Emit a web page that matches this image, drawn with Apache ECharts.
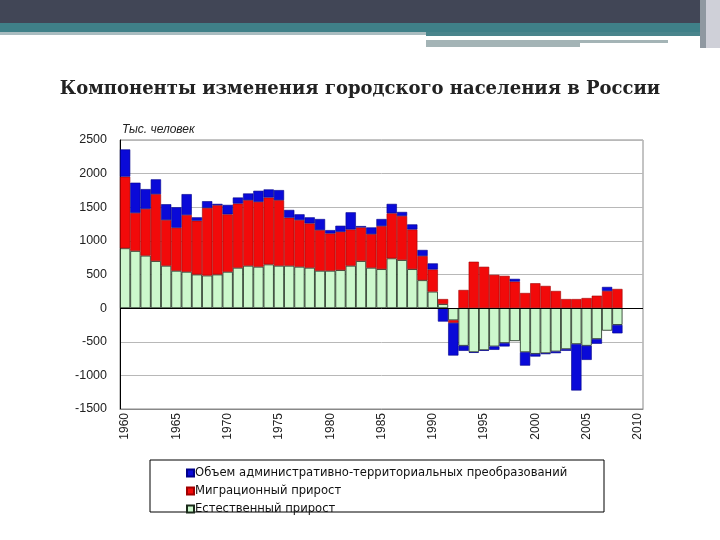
<!DOCTYPE html>
<html>
<head>
<meta charset="utf-8">
<script src="https://cdn.jsdelivr.net/npm/echarts@6/dist/echarts.min.js"></script>
<style>
html, body { margin: 0; padding: 0; background: #fff; }
#chart { width: 720px; height: 540px; }
</style>
</head>
<body>
<div id="chart"></div>
<script>
// годы 1960-2010 (2009, 2010 без данных)
var years = [];
for (var y = 1960; y <= 2010; y++) years.push(String(y));

// Естественный прирост, тыс. человек
var natural = [890, 850, 780, 700, 630, 555, 540, 500, 485, 500,
    540, 600, 630, 615, 650, 630, 630, 615, 600, 555,
    555, 565, 630, 700, 600, 580, 740, 715, 580, 415,
    245, 60, -180, -560, -655, -625, -570, -520, -490, -655,
    -680, -670, -645, -610, -535, -560, -460, -335, -250, null, null];

// Миграционный прирост
var migration = [1065, 565, 695, 995, 680, 640, 845, 800, 1005, 1030,
    855, 955, 975, 965, 995, 975, 715, 695, 660, 605,
    555, 570, 540, 500, 500, 640, 670, 655, 590, 360,
    330, 75, -40, 270, 690, 615, 495, 480, 395, 225,
    370, 330, 255, 135, 135, 150, 185, 255, 285, null, null];

// Объем административно-территориальных преобразований
var admin = [405, 450, 295, 220, 235, 305, 310, 50, 100, 20,
    140, 90, 100, 165, 120, 150, 115, 85, 90, 165,
    50, 90, 255, 20, 100, 105, 140, 60, 75, 90,
    90, -200, -485, -75, -10, -10, -50, -50, 40, -200,
    -40, -15, -25, -25, -690, -210, -70, 60, -125, null, null];

var names = ['Объем административно-территориальных преобразований',
    'Миграционный прирост', 'Естественный прирост'];

var myChart = echarts.init(document.getElementById('chart'));

var option = {
    animation: false,
    backgroundColor: '#fff',
    graphic: [
        // шапка слайда
        { type: 'rect', shape: { x: 0, y: 0, width: 705, height: 23 }, style: { fill: '#414656' } },
        { type: 'rect', shape: { x: 0, y: 23, width: 705, height: 9 }, style: { fill: '#3f8088' } },
        { type: 'rect', shape: { x: 0, y: 32, width: 426, height: 3 }, style: { fill: '#a9bcc0' } },
        { type: 'rect', shape: { x: 426, y: 32, width: 279, height: 4 }, style: { fill: '#4a858c' } },
        { type: 'rect', shape: { x: 426, y: 40, width: 154, height: 7 }, style: { fill: '#a4b4b6' } },
        { type: 'rect', shape: { x: 580, y: 40, width: 88, height: 3 }, style: { fill: '#a4b4b6' } },
        { type: 'rect', shape: { x: 700, y: 0, width: 6, height: 48 }, style: { fill: '#8f98a0' } },
        { type: 'rect', shape: { x: 706, y: 0, width: 14, height: 48 }, style: { fill: '#cfd0d8' } },
        {
            type: 'text', left: 'center', top: 80,
            style: {
                text: 'Компоненты изменения городского населения в России',
                font: 'bold 18px "DejaVu Serif"', fill: '#222'
            }
        },
        {
            type: 'text', left: 122, top: 124,
            style: { text: 'Тыс. человек', font: 'italic 12px "Liberation Sans"', fill: '#222' }
        },
        // рамка легенды
        {
            type: 'rect', shape: { x: 150, y: 460, width: 454, height: 52 },
            style: { fill: 'none', stroke: '#000', lineWidth: 1 }
        }
    ],
    legend: {
        orient: 'vertical',
        left: 186,
        top: 466,
        padding: 0,
        itemWidth: 7,
        itemHeight: 7,
        itemGap: 4,
        icon: 'rect',
        data: names,
        textStyle: {
            fontFamily: 'DejaVu Sans', fontSize: 11.6, lineHeight: 14,
            color: '#111', padding: [0, 0, 0, -4]
        }
    },
    grid: {
        left: 120, right: 77, top: 140, bottom: 131,
        show: true, borderColor: '#888', borderWidth: 1
    },
    xAxis: {
        type: 'category',
        data: years,
        axisLine: { onZero: false, lineStyle: { color: '#888' } },
        axisTick: { show: false },
        axisLabel: {
            interval: 4, rotate: 90, margin: 4,
            fontFamily: 'Liberation Sans', fontSize: 12, color: '#222'
        }
    },
    yAxis: {
        type: 'value',
        min: -1500, max: 2500, interval: 500,
        axisLine: { show: true, lineStyle: { color: '#000' } },
        axisTick: { show: false },
        splitLine: { lineStyle: { color: '#b8b8b8' } },
        axisLabel: {
            margin: 13, fontFamily: 'Liberation Sans', fontSize: 12.5, color: '#222',
            formatter: function (v) { return String(v); }
        }
    },
    series: [
        {
            name: names[2], type: 'bar', stack: 'all', data: natural,
            barCategoryGap: '0%',
            itemStyle: { color: '#ccf8cc', borderColor: '#1a2a1a', borderWidth: 0.8 },
            markLine: {
                silent: true, symbol: 'none', label: { show: false },
                lineStyle: { color: '#000', type: 'solid', width: 1 },
                data: [{ yAxis: 0 }]
            }
        },
        {
            name: names[1], type: 'bar', stack: 'all', data: migration,
            barCategoryGap: '0%',
            itemStyle: { color: '#f20a0a', borderColor: '#a00000', borderWidth: 0.6 }
        },
        {
            name: names[0], type: 'bar', stack: 'all', data: admin,
            barCategoryGap: '0%',
            itemStyle: { color: '#0a0ad8', borderColor: '#00008a', borderWidth: 0.6 }
        }
    ]
};

myChart.setOption(option);
</script>
</body>
</html>
